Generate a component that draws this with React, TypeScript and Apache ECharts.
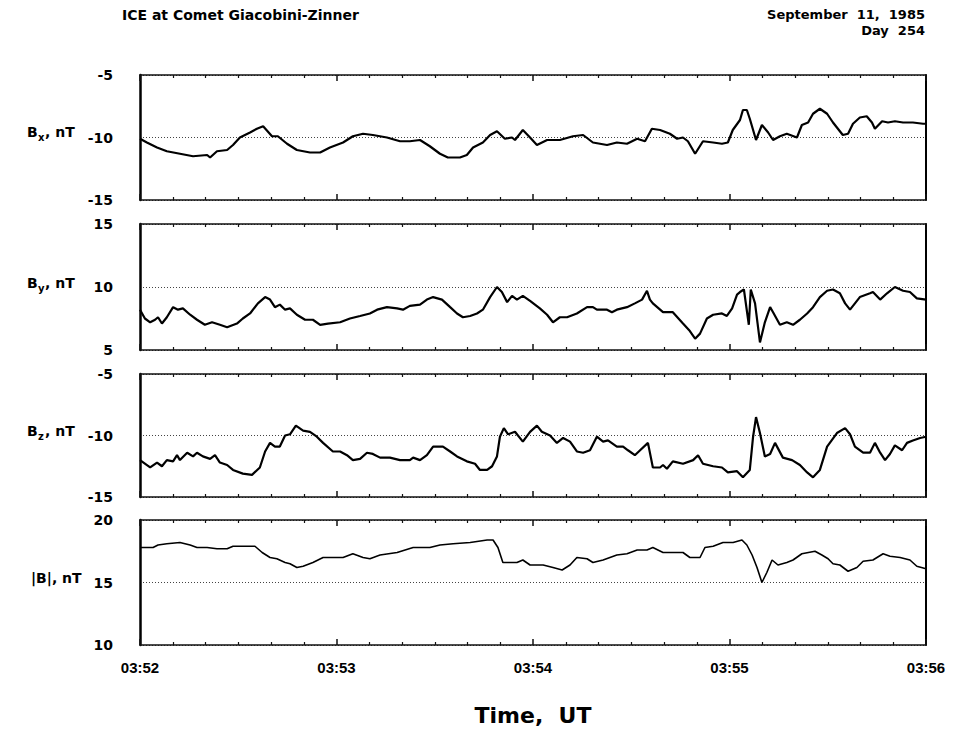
import React, { useEffect, useRef } from "react";
import * as echarts from "echarts";

// time in seconds after 03:52:00 UT
const xTickLabels = ["03:52", "03:53", "03:54", "03:55", "03:56"];

const bxTime = [0, 2.1, 5.2, 8.2, 12.2, 16.2, 20.5, 21.4, 23.5, 26.6, 28.4, 30.5, 33.6, 35.7, 37.6, 40.3, 42.1, 44.9, 47.9, 51.9, 55.0, 58.0, 62.0, 65.0, 68.1, 71.1, 75.4, 79.4, 82.4, 85.5, 88.5, 91.6, 94.0, 97.7, 99.8, 101.7, 104.7, 106.9, 109.0, 111.4, 113.6, 114.5, 116.9, 119.1, 121.2, 124.3, 128.2, 132.2, 135.3, 138.3, 142.6, 145.6, 148.7, 151.8, 154.2, 156.3, 158.8, 161.8, 164.0, 165.8, 167.3, 169.5, 171.9, 175.0, 177.7, 179.5, 181.0, 183.2, 184.1, 185.3, 186.2, 188.1, 189.9, 191.8, 193.3, 195.4, 197.5, 200.6, 202.1, 204.0, 205.5, 207.6, 209.8, 211.6, 214.6, 216.2, 217.7, 219.8, 221.9, 223.5, 224.4, 226.6, 228.4, 230.5, 233.0, 236.0, 239.1, 240];
const bxVal = [-10.1, -10.4, -10.8, -11.1, -11.3, -11.5, -11.4, -11.6, -11.1, -11.0, -10.6, -10.0, -9.6, -9.3, -9.1, -9.9, -9.9, -10.5, -11.0, -11.2, -11.2, -10.8, -10.4, -9.9, -9.7, -9.8, -10.0, -10.3, -10.3, -10.2, -10.7, -11.3, -11.6, -11.6, -11.4, -10.8, -10.4, -9.8, -9.5, -10.1, -10.0, -10.2, -9.4, -10.0, -10.6, -10.2, -10.2, -9.9, -9.8, -10.4, -10.6, -10.4, -10.5, -10.1, -10.3, -9.3, -9.4, -9.7, -10.1, -10.0, -10.3, -11.3, -10.3, -10.4, -10.5, -10.4, -9.4, -8.6, -7.8, -7.8, -8.5, -10.2, -9.0, -9.6, -10.2, -9.9, -9.7, -10.0, -9.0, -8.8, -8.1, -7.7, -8.1, -8.8, -9.8, -9.7, -8.9, -8.4, -8.3, -8.8, -9.3, -8.7, -8.8, -8.7, -8.8, -8.8, -8.9, -8.9];

const byTime = [0, 1.5, 3.1, 4.6, 5.5, 6.7, 8.2, 10.1, 11.6, 13.1, 15.3, 17.4, 19.8, 22.0, 24.4, 26.6, 29.6, 31.4, 33.6, 36.0, 38.2, 39.7, 41.2, 42.7, 44.3, 45.8, 47.9, 50.4, 52.8, 55.0, 57.4, 61.1, 64.1, 67.2, 70.2, 72.4, 75.4, 78.5, 80.3, 82.4, 85.5, 87.6, 89.5, 92.2, 94.7, 96.8, 98.6, 100.8, 102.9, 104.7, 106.9, 109.0, 110.5, 112.1, 113.6, 115.1, 116.9, 119.1, 122.1, 124.3, 126.1, 128.2, 130.4, 133.4, 136.5, 138.3, 139.5, 142.6, 144.1, 145.6, 148.7, 151.1, 153.3, 154.8, 155.7, 156.6, 159.7, 162.7, 165.8, 167.9, 169.5, 171.0, 173.1, 175.0, 177.7, 179.2, 180.8, 182.3, 183.2, 184.4, 185.9, 186.5, 187.8, 189.3, 190.8, 192.4, 193.3, 195.4, 197.5, 199.4, 201.5, 203.7, 205.5, 207.6, 209.8, 211.6, 213.7, 215.3, 216.8, 219.8, 222.9, 223.8, 226.0, 228.1, 230.5, 233.0, 235.1, 237.2, 240];
const byVal = [8.2, 7.5, 7.2, 7.4, 7.6, 7.1, 7.6, 8.4, 8.2, 8.3, 7.8, 7.4, 7.0, 7.2, 7.0, 6.8, 7.1, 7.5, 7.9, 8.7, 9.2, 9.0, 8.4, 8.6, 8.2, 8.3, 7.8, 7.4, 7.4, 7.0, 7.1, 7.2, 7.5, 7.7, 7.9, 8.2, 8.4, 8.3, 8.2, 8.5, 8.6, 9.0, 9.2, 9.0, 8.4, 7.9, 7.6, 7.7, 7.9, 8.2, 9.2, 10.0, 9.6, 8.8, 9.3, 9.0, 9.3, 8.9, 8.3, 7.8, 7.2, 7.6, 7.6, 7.9, 8.4, 8.4, 8.2, 8.2, 8.0, 8.2, 8.4, 8.7, 9.0, 9.7, 9.0, 8.7, 8.0, 8.0, 7.1, 6.5, 5.9, 6.3, 7.5, 7.8, 7.9, 7.7, 8.3, 9.4, 9.6, 9.8, 7.0, 9.8, 8.7, 5.6, 7.2, 8.4, 8.0, 7.0, 7.2, 7.0, 7.4, 7.9, 8.4, 9.2, 9.7, 9.8, 9.5, 8.7, 8.2, 9.2, 9.5, 9.6, 9.0, 9.5, 10.0, 9.7, 9.6, 9.1, 9.0];

const bzTime = [0, 3.1, 5.2, 6.7, 8.2, 10.1, 11.3, 12.2, 14.4, 16.2, 17.4, 19.2, 21.4, 22.9, 24.4, 26.6, 28.4, 31.4, 34.2, 36.6, 38.2, 39.7, 41.2, 42.7, 44.3, 45.8, 47.6, 49.8, 51.9, 54.0, 55.9, 58.9, 61.1, 63.2, 65.0, 67.2, 69.3, 71.1, 73.3, 76.3, 79.4, 82.4, 83.4, 85.5, 87.6, 89.5, 92.5, 94.7, 96.8, 99.8, 102.3, 103.8, 106.0, 107.5, 109.0, 109.9, 111.1, 112.4, 114.5, 116.9, 119.1, 121.2, 122.7, 125.2, 127.3, 129.2, 131.3, 133.4, 135.3, 137.4, 139.5, 141.4, 142.9, 145.6, 147.5, 149.0, 151.1, 152.7, 155.1, 156.6, 158.8, 159.7, 160.9, 162.7, 165.8, 168.9, 170.4, 171.9, 175.0, 177.7, 179.5, 182.3, 184.1, 186.2, 187.2, 188.1, 189.3, 190.8, 192.4, 193.9, 196.3, 199.1, 201.5, 203.7, 205.5, 207.6, 209.8, 212.8, 215.3, 216.8, 218.3, 220.8, 222.9, 224.4, 226.0, 227.5, 229.0, 230.5, 232.7, 234.2, 236.0, 238.2, 240];
const bzVal = [-12.0, -12.6, -12.2, -12.5, -12.0, -12.1, -11.6, -12.0, -11.4, -11.7, -11.4, -11.7, -11.9, -11.6, -12.2, -12.4, -12.8, -13.1, -13.2, -12.6, -11.3, -10.6, -10.9, -10.9, -10.0, -9.9, -9.2, -9.6, -9.7, -10.1, -10.6, -11.3, -11.3, -11.6, -12.0, -11.9, -11.4, -11.5, -11.8, -11.8, -12.0, -12.0, -11.8, -12.0, -11.6, -10.9, -10.9, -11.3, -11.7, -12.1, -12.3, -12.8, -12.8, -12.5, -11.7, -10.1, -9.4, -9.9, -9.7, -10.5, -9.7, -9.2, -9.7, -10.0, -10.6, -10.2, -10.5, -11.3, -11.4, -11.2, -10.1, -10.5, -10.4, -10.9, -10.9, -11.2, -11.6, -11.2, -10.6, -12.6, -12.6, -12.4, -12.7, -12.1, -12.3, -12.0, -11.6, -12.3, -12.5, -12.6, -13.0, -12.9, -13.4, -12.8, -10.1, -8.5, -9.8, -11.7, -11.5, -10.6, -11.8, -12.0, -12.4, -13.0, -13.4, -12.8, -10.9, -9.8, -9.4, -9.9, -10.9, -11.4, -11.4, -10.6, -11.4, -12.0, -11.5, -10.8, -11.2, -10.6, -10.4, -10.2, -10.1];

const bmTime = [0, 4.0, 5.5, 8.2, 12.2, 15.3, 17.4, 20.5, 23.5, 26.6, 28.4, 31.4, 35.1, 37.3, 39.7, 41.8, 44.3, 45.8, 47.9, 49.8, 52.8, 55.9, 58.9, 62.0, 65.0, 68.1, 70.2, 73.3, 78.5, 83.4, 88.5, 91.6, 95.6, 100.8, 106.0, 107.8, 109.3, 110.8, 113.0, 115.1, 116.9, 119.1, 123.1, 126.1, 128.9, 131.3, 133.4, 136.5, 138.3, 141.4, 145.6, 148.7, 151.8, 154.8, 156.6, 159.7, 162.7, 165.8, 167.9, 171.0, 172.5, 175.0, 178.0, 181.1, 183.8, 185.3, 186.9, 188.4, 189.9, 191.4, 193.0, 194.8, 197.5, 199.4, 202.1, 206.1, 208.2, 210.1, 211.6, 213.7, 216.2, 218.9, 220.8, 223.8, 226.9, 229.0, 232.1, 235.1, 237.2, 240];
const bmVal = [17.8, 17.8, 18.0, 18.1, 18.2, 18.0, 17.8, 17.8, 17.7, 17.7, 17.9, 17.9, 17.9, 17.4, 17.0, 16.9, 16.6, 16.5, 16.2, 16.3, 16.6, 17.0, 17.0, 17.0, 17.3, 17.0, 16.9, 17.2, 17.4, 17.8, 17.8, 18.0, 18.1, 18.2, 18.4, 18.4, 17.8, 16.6, 16.6, 16.6, 16.8, 16.4, 16.4, 16.2, 16.0, 16.4, 17.0, 16.9, 16.6, 16.8, 17.2, 17.3, 17.6, 17.6, 17.8, 17.4, 17.4, 17.4, 17.0, 17.0, 17.8, 17.9, 18.2, 18.2, 18.4, 18.0, 17.2, 16.2, 15.0, 15.8, 16.8, 16.4, 16.6, 16.8, 17.3, 17.5, 17.2, 16.9, 16.5, 16.4, 15.9, 16.2, 16.7, 16.8, 17.3, 17.1, 17.0, 16.8, 16.3, 16.1];

const panelMin = [-15, 5, -15, 10];
const panelMax = [-5, 15, -5, 20];

const zip = (t: number[], v: number[]) => t.map((x, i) => [x, v[i]]);

const gridTops = [75, 224, 374, 520];
const gridHeights = [125, 126, 123, 125];
const LEFT = 140;
const RIGHT = 28;

const FONT = '"Liberation Sans", Arial, sans-serif';
const WIDE = '"DejaVu Sans", sans-serif';

export default function App() {
  const ref = useRef<HTMLDivElement>(null);
  useEffect(() => {
    if (!ref.current) return;
    const chart = echarts.init(ref.current, undefined, { renderer: "svg" });
    const seriesData = [zip(bxTime, bxVal), zip(byTime, byVal), zip(bzTime, bzVal), zip(bmTime, bmVal)];

    const grids = gridTops.map((top, i) => ({ left: LEFT, right: RIGHT, top, height: gridHeights[i] }));
    const xAxes: any[] = [];
    const yAxes: any[] = [];
    for (let i = 0; i < 4; i++) {
      for (const pos of ["bottom", "top"]) {
        xAxes.push({
          type: "value",
          gridIndex: i,
          position: pos,
          min: 0,
          max: 240,
          interval: 60,
          axisLine: { show: true, onZero: false, lineStyle: { color: "#111", width: 1.5 } },
          axisTick: { show: true, inside: true, length: 6, lineStyle: { color: "#111", width: 1.5 } },
          minorTick: { show: true, splitNumber: 6, length: 3, lineStyle: { color: "#111", width: 1.2 } },
          splitLine: { show: false },
          axisLabel: {
            show: i === 3 && pos === "bottom",
            margin: 15,
            color: "#000",
            fontFamily: FONT,
            fontWeight: "bold",
            fontSize: 15,
            formatter: (v: number) => xTickLabels[Math.round(v / 60)],
          },
        });
      }
      yAxes.push({
        type: "value",
        gridIndex: i,
        position: "left",
        min: panelMin[i],
        max: panelMax[i],
        interval: 5,
        axisLine: { show: true, onZero: false, lineStyle: { color: "#000", width: 2.5 } },
        axisTick: { show: false },
        splitLine: { show: true, lineStyle: { color: "#444", type: [1, 2], width: 1 } },
        axisLabel: {
          margin: 27,
          color: "#000",
          fontFamily: WIDE,
          fontWeight: "bold",
          fontSize: 14,
        },
      });
      yAxes.push({
        type: "value",
        gridIndex: i,
        position: "right",
        min: panelMin[i],
        max: panelMax[i],
        interval: 5,
        axisLine: { show: true, onZero: false, lineStyle: { color: "#000", width: 2 } },
        axisTick: { show: false },
        splitLine: { show: false },
        axisLabel: { show: false },
      });
    }

    const series = seriesData.map((d, i) => ({
      type: "line",
      xAxisIndex: i * 2,
      yAxisIndex: i * 2,
      data: d,
      showSymbol: false,
      symbol: "none",
      lineStyle: { color: "#000", width: i === 3 ? 1.6 : 2.2 },
    }));

    const labelFont = `bold 14px ${WIDE}`;
    const subFont = `bold 10px ${WIDE}`;
    const mid = { textVerticalAlign: "middle", verticalAlign: "middle" };
    const panelLabel = (y: number, sub: string) => [
      { type: "text", x: 27, y, style: { text: "B", font: labelFont, fill: "#000", ...mid } },
      { type: "text", x: 38, y: y + 5, style: { text: sub, font: subFont, fill: "#000", ...mid } },
      { type: "text", x: 45, y, style: { text: ", nT", font: labelFont, fill: "#000", ...mid } },
    ];

    const graphic: any[] = [
      { type: "text", x: 122, y: 15, style: { text: "ICE at Comet Giacobini-Zinner", font: `bold 14px ${WIDE}`, fill: "#000", ...mid } },
      { type: "text", x: 925, y: 14, style: { text: "September  11,  1985", font: `bold 13px ${WIDE}`, fill: "#000", textAlign: "right", align: "right", ...mid } },
      { type: "text", x: 925, y: 30, style: { text: "Day  254", font: `bold 13px ${WIDE}`, fill: "#000", textAlign: "right", align: "right", ...mid } },
      ...panelLabel(132, "x"),
      ...panelLabel(283, "y"),
      ...panelLabel(431, "z"),
      { type: "text", x: 31, y: 578, style: { text: "|B|, nT", font: labelFont, fill: "#000", ...mid } },
      { type: "text", x: 533, y: 715, style: { text: "Time,  UT", font: `bold 22px ${WIDE}`, fill: "#000", textAlign: "center", align: "center", ...mid } },
    ];

    chart.setOption({
      animation: false,
      backgroundColor: "#fff",
      grid: grids,
      xAxis: xAxes,
      yAxis: yAxes,
      series,
      graphic,
    });
    return () => chart.dispose();
  }, []);
  return <div ref={ref} style={{ position: "fixed", left: 0, top: 0, width: 954, height: 731, background: "#fff" }} />;
}
